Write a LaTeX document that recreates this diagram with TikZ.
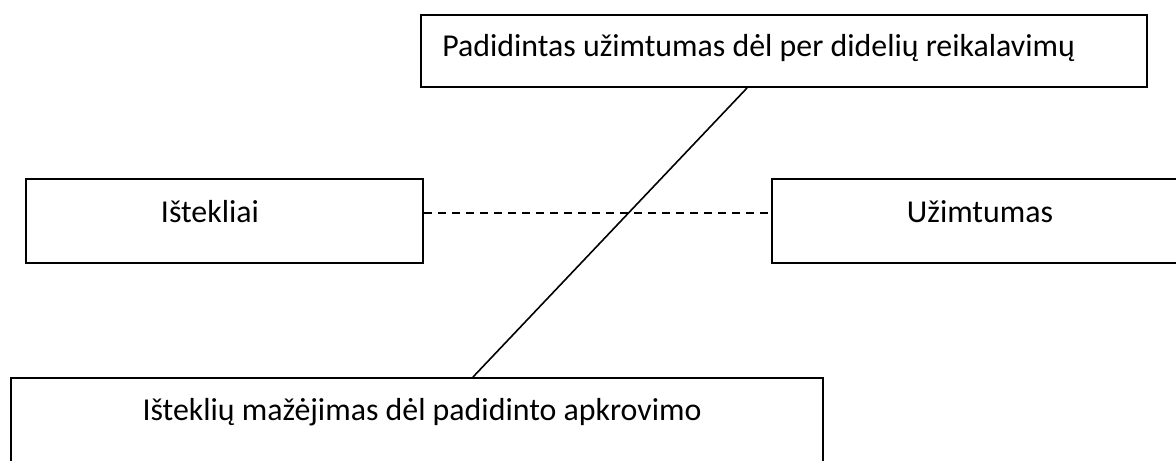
\documentclass[tikz,border=0pt]{standalone}
\usepackage{fontspec}
\setmainfont{Carlito}
\begin{document}
\begin{tikzpicture}[x=0.75pt,y=-0.75pt,
  box/.style={draw=black,line width=1.5pt,rectangle,inner sep=0pt,fill=none},
  lbl/.style={inner sep=0pt,font=\fontsize{23.9}{28}\selectfont,text=black},
  conn/.style={draw=black,line width=1.2pt},
  dashconn/.style={draw=black,line width=1.2pt,dash pattern=on 6pt off 4.5pt}]
\useasboundingbox (0,0) rectangle (1176,460);
\clip (0,0) rectangle (1176,460);
\node[box,minimum width=726*0.75pt,minimum height=72*0.75pt] (top) at (784,51) {};
\node[box,minimum width=397*0.75pt,minimum height=84*0.75pt] (left) at (224.5,221) {};
\node[box,minimum width=418*0.75pt,minimum height=84*0.75pt] (right) at (981,221) {};
\node[box,minimum width=812*0.75pt,minimum height=102*0.75pt] (bottom) at (417,429) {};
\node[lbl,anchor=base west] (toptext) at (442,56) {Padidintas užimtumas dėl per didelių reikalavimų};
\node[lbl,anchor=base] (lefttext) at (210,222) {Ištekliai};
\node[lbl,anchor=base] (righttext) at (980,222) {Užimtumas};
\node[lbl,anchor=base] (bottomtext) at (422,420) {Išteklių mažėjimas dėl padidinto apkrovimo};
\draw[dashconn] ([yshift=6pt]left.east) -- ([yshift=6pt]right.west);
\draw[conn] ([xshift=-37*0.75pt]top.south) -- ([xshift=56*0.75pt]bottom.north);
\end{tikzpicture}
\end{document}
